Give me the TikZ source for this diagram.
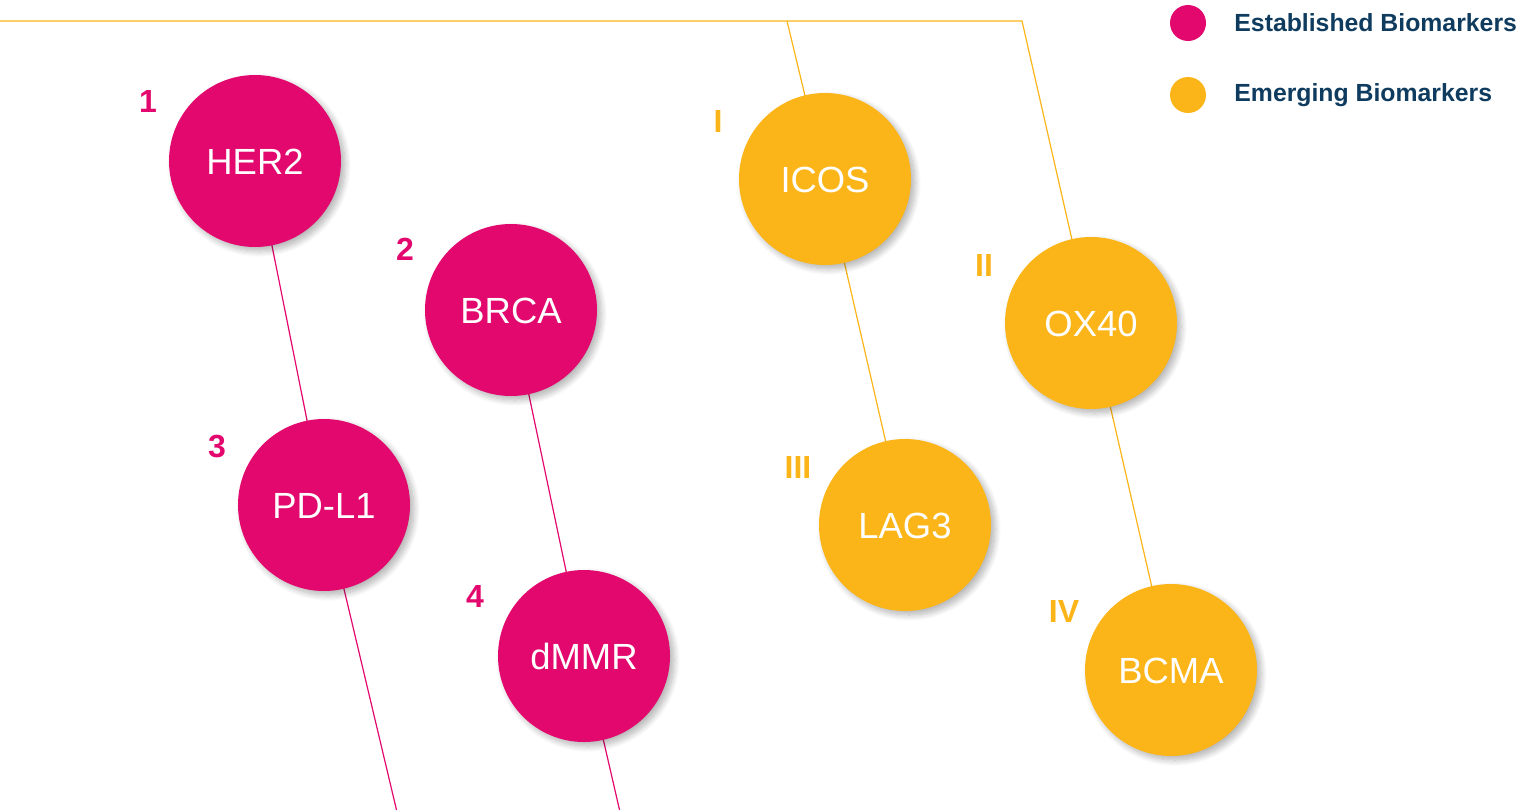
\documentclass[tikz,border=0pt]{standalone}
\usepackage{fontspec}
\setmainfont{Liberation Sans}
\usetikzlibrary{shadows.blur}
\definecolor{pinkc}{HTML}{E2086E}
\definecolor{yelc}{HTML}{FBB518}
\definecolor{navy}{HTML}{0E3B5E}
\pgfdeclarelayer{background}
\pgfsetlayers{background,main}
\tikzset{
  bio/.style={circle, minimum size=86pt, inner sep=0pt, text=white,
    font=\fontsize{18.2}{20}\selectfont, text depth=0pt, text height=13pt,
    blur shadow={shadow blur steps=12, shadow xshift=2pt, shadow yshift=-2pt, shadow opacity=30, shadow blur radius=3pt}},
  est/.style={bio, fill=pinkc},
  emg/.style={bio, fill=yelc},
  numlab/.style={font=\fontsize{16}{18}\bfseries\selectfont, inner sep=0pt},
  estnum/.style={numlab, text=pinkc},
  emgnum/.style={numlab, text=yelc},
  pinkline/.style={draw=pinkc, line width=0.6pt},
  yelline/.style={draw=yelc, line width=0.6pt},
  legdot/.style={circle, minimum size=18pt, inner sep=0pt},
  legtext/.style={anchor=west, text=navy, font=\fontsize{12.4}{14}\bfseries\selectfont, inner sep=0pt},
}
\begin{document}
\begin{tikzpicture}[x=0.5pt, y=-0.5pt]
\useasboundingbox (0,0) rectangle (1540,809);
% circles
\node[est] (her2) at (255,161) {HER2};
\node[est] (brca) at (511,310) {BRCA};
\node[est] (pdl1) at (324,505) {PD-L1};
\node[est] (dmmr) at (584,656) {dMMR};
\node[emg] (icos) at (825,179) {ICOS};
\node[emg] (ox40) at (1091,323) {OX40};
\node[emg] (lag3) at (905,525) {LAG3};
\node[emg] (bcma) at (1171,670) {BCMA};
% numbers
\node[estnum] (n1) at (148,101) {1};
\node[estnum] (n2) at (405,249) {2};
\node[estnum] (n3) at (217,446) {3};
\node[estnum] (n4) at (475,596) {4};
\node[emgnum] (r1) at (718,121) {I};
\node[emgnum] (r2) at (984,265) {II};
\node[emgnum] (r3) at (798,467) {III};
\node[emgnum] (r4) at (1064,611) {IV};
% free ends
\coordinate (yl) at (0,21);
\coordinate (yc) at (1022,21);
\coordinate (ym) at (787,21);
\coordinate (pe1) at (397,812);
\coordinate (pe2) at (620,812);
% legend
\node[legdot, fill=pinkc] (ld1) at (1188,23) {};
\node[legtext] (lt1) at (1234,23) {Established Biomarkers};
\node[legdot, fill=yelc] (ld2) at (1188,95) {};
\node[legtext] (lt2) at (1234,95) {Emerging Biomarkers};
\begin{pgfonlayer}{background}
\draw[yelline] (yl) -- (yc) -- (ox40.center) -- (bcma.center);
\draw[yelline] (ym) -- (icos.center) -- (lag3.center);
\draw[pinkline] (her2.center) -- (pdl1.center) -- (pe1);
\draw[pinkline] (brca.center) -- (dmmr.center) -- (pe2);
\end{pgfonlayer}
\end{tikzpicture}
\end{document}
